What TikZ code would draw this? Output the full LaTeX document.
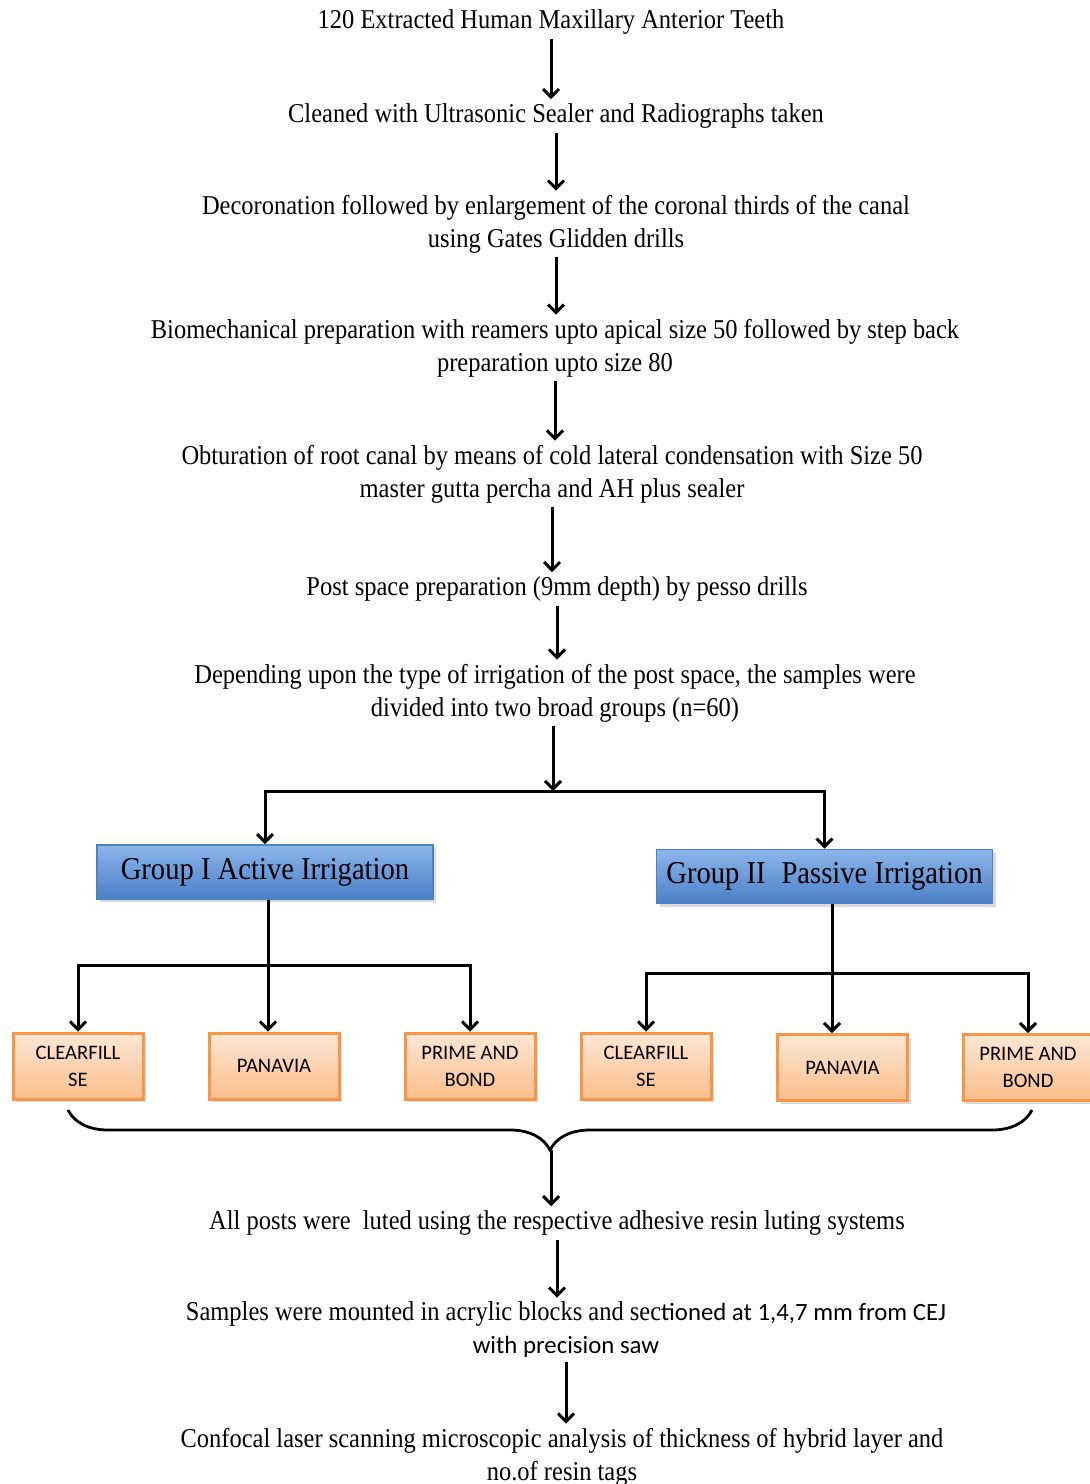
\documentclass[tikz,border=0pt]{standalone}
\usepackage{fontspec}
\setmainfont{Liberation Serif}[FakeStretch=0.9]
\newfontfamily\calibri{Carlito}
\usetikzlibrary{arrows.meta, shadows, decorations.pathreplacing, positioning}
\definecolor{bluSu}{HTML}{8DB5EA}
\definecolor{bluGiu}{HTML}{4A7FC8}
\definecolor{bluBordo}{HTML}{4F81BD}
\definecolor{aranSu}{HTML}{FDE7D5}
\definecolor{aranGiu}{HTML}{FBBE8B}
\definecolor{aranBordo}{HTML}{F79646}
\newcommand{\sanspiccolo}{\calibri\fontsize{12.4}{16.5}\selectfont}
\tikzset{
  passo/.style    = {align=center, inner sep=2pt, font=\fontsize{13.6}{16.5}\selectfont},
  gruppo/.style   = {rectangle, draw=bluBordo, line width=0.8pt, top color=bluSu, bottom color=bluGiu,
                     drop shadow={shadow xshift=1.5pt, shadow yshift=-1.5pt, opacity=0.3},
                     minimum width=168pt, minimum height=27pt, font=\fontsize{15.9}{18}\selectfont},
  cemento/.style  = {rectangle, draw=aranBordo, line width=1.5pt, top color=aranSu, bottom color=aranGiu,
                     drop shadow={shadow xshift=1.5pt, shadow yshift=-1.5pt, opacity=0.3},
                     minimum width=65pt, minimum height=33pt, align=center,
                     font=\calibri\fontsize{10.3}{13.5}\selectfont},
  freccia/.style  = {line width=1.5pt, -{Straight Barb[length=4pt, width=8pt]}},
  linea/.style    = {line width=1.5pt}
}

\begin{document}
\begin{tikzpicture}[x=0.5pt, y=-0.5pt]
  \useasboundingbox (0,0) rectangle (1089,1484);

  % passi iniziali
  \node[passo] (t1) at (551,22)  {120 Extracted Human Maxillary Anterior Teeth};
  \node[passo] (t2) at (556,116) {Cleaned with Ultrasonic Sealer and Radiographs taken};
  \node[passo] (t3) at (556,224) {Decoronation followed by enlargement of the coronal thirds of the canal\\using Gates Glidden drills};
  \node[passo] (t4) at (555,348) {Biomechanical preparation with reamers upto apical size 50 followed by step back\\preparation upto size 80};
  \node[passo] (t5) at (552,474) {Obturation of root canal by means of cold lateral condensation with Size 50\\master gutta percha and AH plus sealer};
  \node[passo] (t6) at (557,589) {Post space preparation (9mm depth) by pesso drills};
  \node[passo] (t7) at (555,693) {Depending upon the type of irrigation of the post space, the samples were\\divided into two broad groups (n=60)};

  % gruppi
  \coordinate (split) at (553,791);
  \node[gruppo] (g1) at (265,872)   {Group I Active Irrigation};
  \node[gruppo] (g2) at (824.5,876.5) {Group II\enspace Passive Irrigation};

  % cementi
  \coordinate (r1) at (268,965);
  \coordinate (r2) at (832,973);
  \node[cemento] (c1a) at (78,1066)    {CLEARFILL\\SE};
  \node[cemento] (c1b) at (274,1066)   {PANAVIA};
  \node[cemento] (c1c) at (470,1066)   {PRIME AND\\BOND};
  \node[cemento] (c2a) at (646,1066)   {CLEARFILL\\SE};
  \node[cemento] (c2b) at (842.5,1067.5) {PANAVIA};
  \node[cemento] (c2c) at (1028,1067.5) {PRIME AND\\BOND};

  % passi finali
  \coordinate (bsx) at (68,1110);
  \coordinate (bdx) at (1032,1110);
  \coordinate (punta) at (551,1150);
  \node[passo] (t8)  at (557,1223) {All posts were\ \ luted using the respective adhesive resin luting systems};
  \node[passo] (t9)  at (566,1330) {Samples were mounted in acrylic blocks and sec{\sanspiccolo tioned at 1,4,7 mm from CEJ}\\{\sanspiccolo with precision saw}};
  \node[passo] (t10) at (562,1457) {Confocal laser scanning microscopic analysis of thickness of hybrid layer and\\no.of resin tags};

  \draw[freccia] (t1) -- (t1 |- t2.north);
  \draw[freccia] (t2) -- (t2 |- t3.north);
  \draw[freccia] (t3) -- (t3 |- t4.north);
  \draw[freccia] (t4) -- (t4 |- t5.north);
  \draw[freccia] (t5) -- (t5 |- t6.north);
  \draw[freccia] (t6) -- (t6 |- t7.north);
  \draw[freccia] (t7.south -| split) -- (split);

  \draw[freccia] (split) -| (g1.north);
  \draw[freccia] (split) -| (g2.north);

  \draw[linea] (g1.south -| r1) -- (r1);
  \draw[freccia] (r1) -| (c1a.north);
  \draw[freccia] (r1) -- (r1 |- c1b.north);
  \draw[freccia] (r1) -| (c1c.north);

  \draw[linea] (g2.south -| r2) -- (r2);
  \draw[freccia] (r2) -| (c2a.north);
  \draw[freccia] (r2) -- (r2 |- c2b.north);
  \draw[freccia] (r2) -| (c2c.north);

  \draw[line width=1.4pt, decorate, decoration={brace, amplitude=20pt}] (bdx) -- (bsx);
  \draw[freccia] (punta) -- (punta |- t8.north);
  \draw[freccia] (t8) -- (t8 |- t9.north);
  \draw[freccia] (t9) -- (t9 |- t10.north);

\end{tikzpicture}
\end{document}
